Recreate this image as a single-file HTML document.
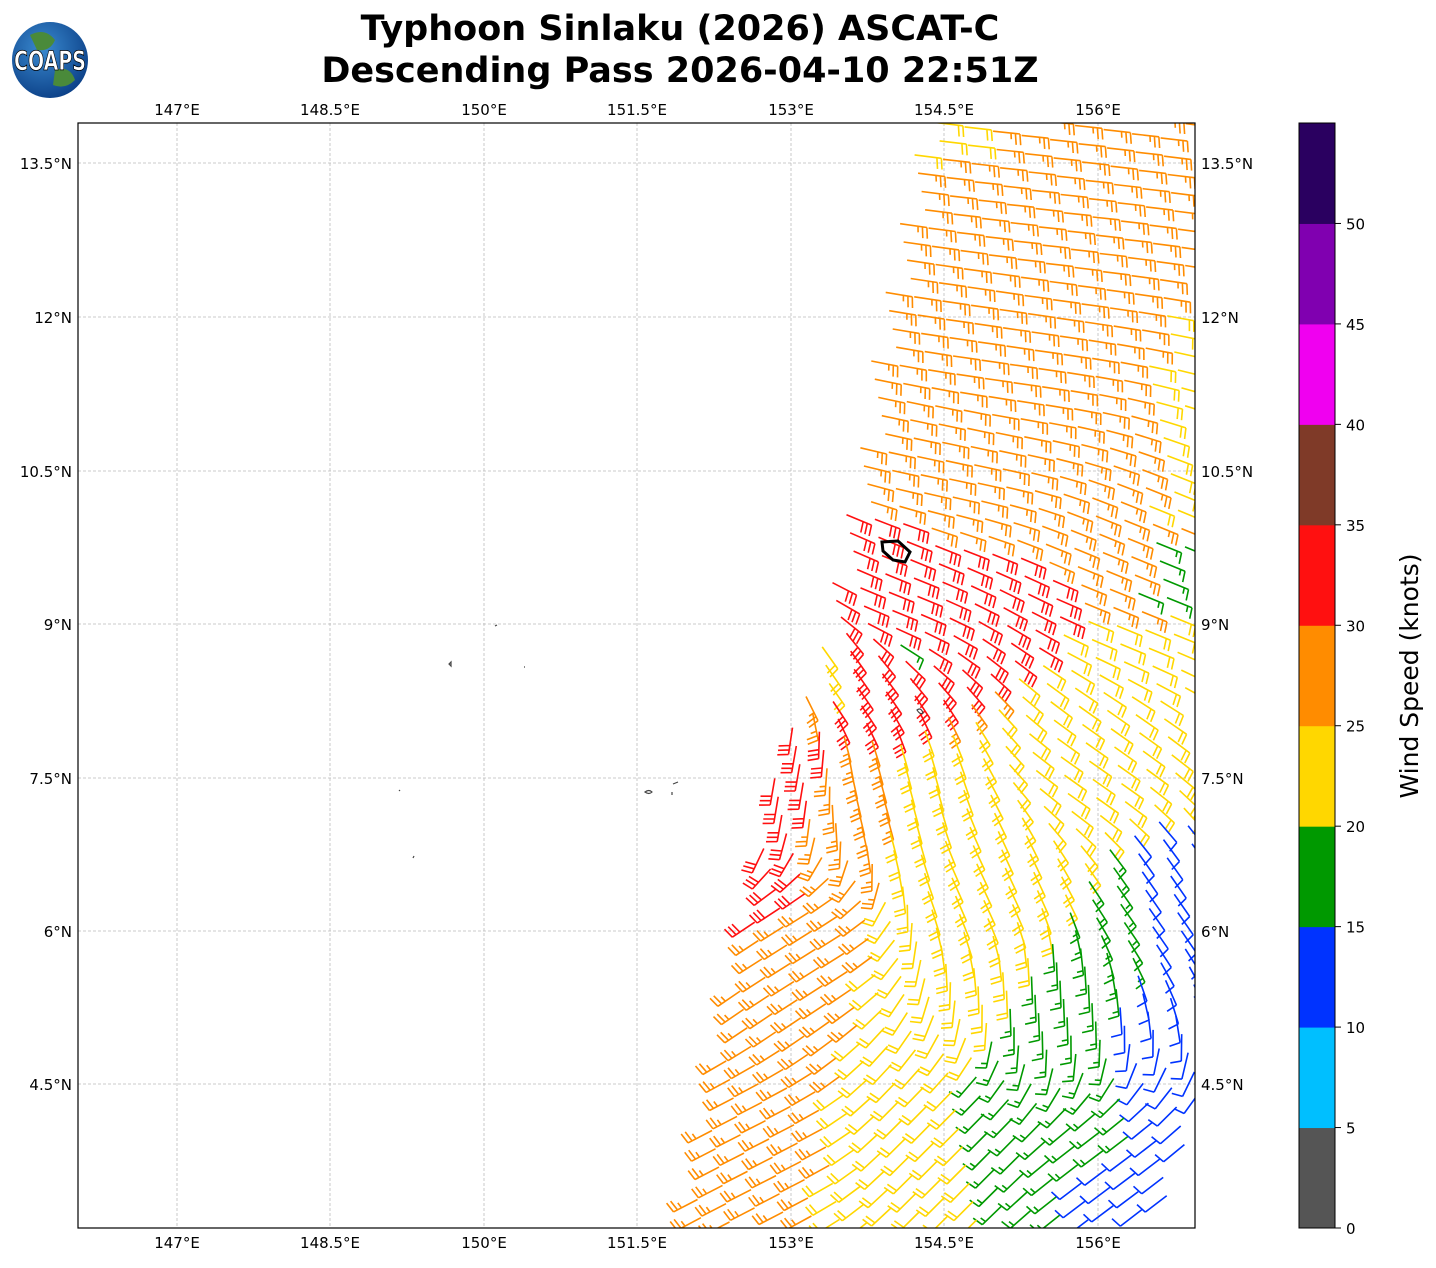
<!DOCTYPE html>
<html><head><meta charset="utf-8"><style>
body{margin:0;background:#fff;width:1436px;height:1264px;overflow:hidden;font-family:"DejaVu Sans","Liberation Sans",sans-serif}
</style></head><body>
<svg id="s" width="1436" height="1264" xmlns="http://www.w3.org/2000/svg" font-family="DejaVu Sans, Liberation Sans, sans-serif">
<defs><clipPath id="pc"><rect x="78" y="123" width="1117" height="1105"/></clipPath>
<radialGradient id="gl" cx="40%" cy="35%" r="70%"><stop offset="0" stop-color="#3a8ad0"/><stop offset="1" stop-color="#0b3f86"/></radialGradient></defs>
<text x="680" y="40" font-size="35" font-weight="bold" text-anchor="middle">Typhoon Sinlaku (2026) ASCAT-C</text>
<text x="680" y="82" font-size="35" font-weight="bold" text-anchor="middle">Descending Pass 2026-04-10 22:51Z</text>
<circle cx="50" cy="60" r="38" fill="url(#gl)"/>
<path d="M30 35 q15 -8 25 5 q-5 12 -18 10z M55 70 q15 -5 20 10 q-10 10 -22 5z" fill="#4a8a3a"/>
<text x="50" y="70" font-size="27" font-weight="bold" fill="#fff" stroke="#000" stroke-width="0.8" text-anchor="middle" textLength="72" lengthAdjust="spacingAndGlyphs">COAPS</text>
<g id="grid" stroke="#bbb" stroke-width="0.8" stroke-dasharray="3,2"></g>
<g id="barbs" clip-path="url(#pc)" fill="none" stroke-width="1.6" stroke-linecap="butt"></g>
<g stroke="#444" fill="none" stroke-width="1.2">
<path d="M449 664 l2 -2 l0 4z"/><path d="M495 626 l2 -1"/><path d="M524 667 l1 0"/><path d="M645 792 q4 -3 7 0 q-3 3 -7 0z"/><path d="M673 784 l5 -2 M672 792 l0 3"/><path d="M399 790 l1 1"/><path d="M413 858 l1 -2"/><path d="M917 710 q4 -3 6 3 q-3 2 -6 -3z"/>
</g>
<path d="M882 542 L898 541 L910 552 L905 562 L893 560 L883 551 Z" fill="none" stroke="#000" stroke-width="3"/>
<rect x="78" y="123" width="1117" height="1105" fill="none" stroke="#000" stroke-width="1.2"/>
<g id="cb"></g>
<text transform="translate(1418,676) rotate(-90)" font-size="25" text-anchor="middle">Wind Speed (knots)</text>
</svg>
<script>
var NS="http://www.w3.org/2000/svg",s=document.getElementById('s');
function el(p,t,a,txt){var e=document.createElementNS(NS,t);for(var k in a)e.setAttribute(k,a[k]);if(txt!=null)e.textContent=txt;p.appendChild(e);return e;}
var g=document.getElementById('grid');
var lons=[[177,"147°E"],[330,"148.5°E"],[484,"150°E"],[637,"151.5°E"],[791,"153°E"],[944,"154.5°E"],[1098,"156°E"]];
var lats=[[163,"13.5°N"],[317,"12°N"],[471,"10.5°N"],[624,"9°N"],[778,"7.5°N"],[931,"6°N"],[1084,"4.5°N"]];
lons.forEach(function(l){el(g,'line',{x1:l[0],x2:l[0],y1:123,y2:1228});el(s,'text',{x:l[0],y:115,'font-size':15,'text-anchor':'middle'},l[1]);el(s,'text',{x:l[0],y:1248,'font-size':15,'text-anchor':'middle'},l[1]);});
lats.forEach(function(l){el(g,'line',{x1:78,x2:1195,y1:l[0],y2:l[0]});el(s,'text',{x:72,y:l[0]+6,'font-size':15,'text-anchor':'end'},l[1]);el(s,'text',{x:1201,y:l[0]+6,'font-size':15},l[1]);});
var cols=['#555555','#00bfff','#0033ff','#009900','#ffd700','#ff8c00','#ff1010','#7f3a28','#f000f0','#8000b0','#2a0060'];
var cb=document.getElementById('cb'),h=1105/11;
for(var i=0;i<11;i++)el(cb,'rect',{x:1299,y:1228-(i+1)*h,width:36,height:h+0.5,fill:cols[i]});
el(cb,'rect',{x:1299,y:123,width:36,height:1105,fill:'none',stroke:'#000','stroke-width':1});
for(i=0;i<=10;i++){var y=1228-i*h;el(cb,'line',{x1:1335,x2:1341,y1:y,y2:y,stroke:'#000'});el(cb,'text',{x:1346,y:y+6,'font-size':15},String(i*5));}
function leftEdge(y){var p=[[123,928],[520,855],[640,830],[790,770],[920,745],[1100,700],[1228,680]];for(var i=0;i<p.length-1;i++)if(y<=p[i+1][0])return p[i][1]+(p[i+1][1]-p[i][1])*(y-p[i][0])/(p[i+1][0]-p[i][0]);return 680;}
function rightEdge(y){return y<1080?1200:1200-(y-1080)*0.3;}
function speed(x,y){
 var le=leftEdge(y),u=x-le;
 if(y>820&&x>1140&&y<1000)return 12;
 if(y>1000&&x>1120)return 12;
 if(y>1170&&x>1070)return 12;
 var gb=1110-(y-850)*0.65; if(y>1100)gb=948+(y-1100)*0.3;
 if(y>830&&x>gb)return 17;
 if(y>540&&y<610&&x>1150)return 17;
 if(y>635&&y<660&&x>895&&x<920)return 17;
 var dx=x-900,dy=y-560,d=Math.sqrt(dx*dx+dy*dy);
 if(y>515&&y<740&&x>840&&d<190&&(dy-dx*0.3)>-40&&dx>-60&&(dy+dx*0.6)<200)return 32;
 if(y>730&&y<930&&u<45)return 32;
 if(y>580&&y<700&&u<80)return 22;
 if(y>620&&y<840&&x>900&&d>180)return 22;
 if(y>830&&u>130)return 22;
 if(y<520&&x>1160&&y>300)return 22;
 if(y<160&&u<60)return 22;
 return 27;}
var anch=[[1050,200,6],[1000,350,8],[950,450,12],[900,600,22],[1150,600,22],[1100,780,35],[1150,900,55],[1050,1000,88],[1100,1180,143],[950,1150,135],[780,770,100],[800,950,148],[750,1160,153],[900,800,75],[850,680,55],[1000,880,65]];
function ang(x,y){var sx=0,sy=0;anch.forEach(function(a){var d2=(x-a[0])*(x-a[0])+(y-a[1])*(y-a[1])+400;var w=1/(d2*d2);var t=a[2]*Math.PI/180;sx+=w*Math.cos(t);sy+=w*Math.sin(t);});return Math.atan2(sy,sx);}
var bg=document.getElementById('barbs');
for(var r=-5;r<70;r++){for(var c=-10;c<40;c++){
 var x=700+c*28.5+r*3.5, y=123+r*18.3+c*4.2;
 if(y<120||y>1232)continue;
 if(x<leftEdge(y)||x>rightEdge(y))continue;
 var sp=speed(x,y),col=cols[Math.floor(sp/5)];
 var t=ang(x,y),ex0=Math.cos(t),ey0=Math.sin(t);
 var L=27,x0=x-ex0*L/2,y0=y-ey0*L/2,ex=x0+ex0*L,ey=y0+ey0*L;
 var fx=-ey0,fy=ex0;
 var dpath='M'+x0.toFixed(1)+' '+y0.toFixed(1)+'L'+ex.toFixed(1)+' '+ey.toFixed(1);
 var n=Math.floor(sp/10),half=(sp%10)>=5;
 for(var k=0;k<n;k++){var bx=ex-ex0*k*4.5,by=ey-ey0*k*4.5;dpath+='M'+bx.toFixed(1)+' '+by.toFixed(1)+'l'+((fx*11+ex0*2).toFixed(1))+' '+((fy*11+ey0*2).toFixed(1));}
 if(half){var bx=ex-ex0*n*4.5,by=ey-ey0*n*4.5;dpath+='M'+bx.toFixed(1)+' '+by.toFixed(1)+'l'+((fx*6+ex0*1).toFixed(1))+' '+((fy*6+ey0*1).toFixed(1));}
 el(bg,'path',{d:dpath,stroke:col});
}}
</script>
</body></html>
